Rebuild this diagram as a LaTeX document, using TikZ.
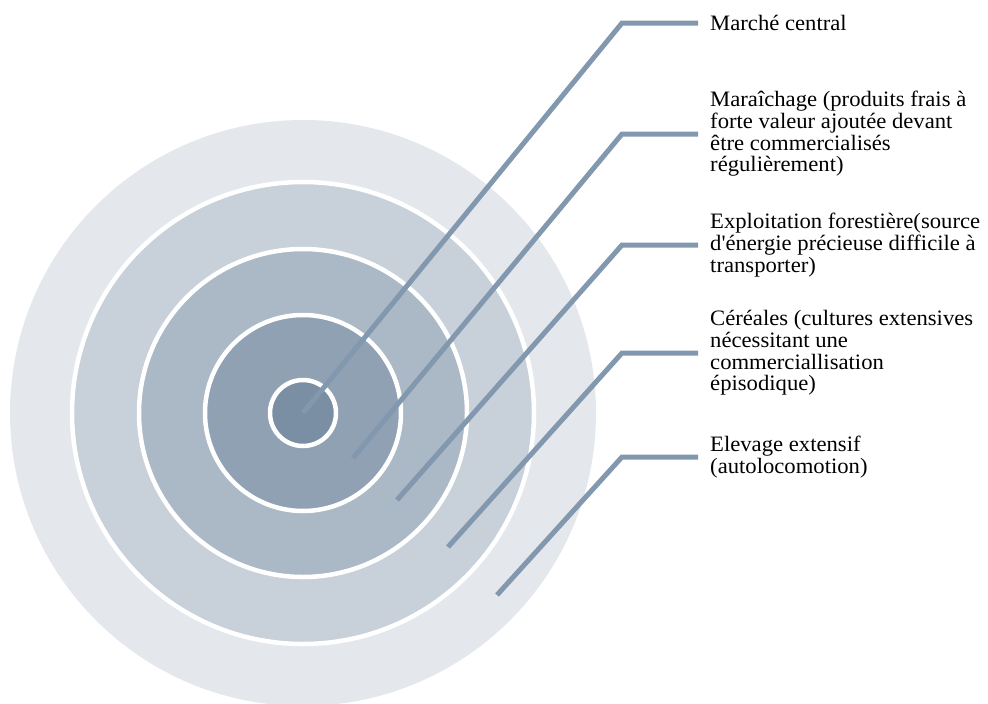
\documentclass[tikz,border=0pt]{standalone}
\usepackage{fontspec}
\setmainfont{Liberation Serif}[FakeStretch=1.03]
\usetikzlibrary{positioning}
\definecolor{zoneA}{HTML}{E4E8ED}
\definecolor{zoneB}{HTML}{C8D0DA}
\definecolor{zoneC}{HTML}{ABB8C6}
\definecolor{zoneD}{HTML}{8FA1B3}
\definecolor{zoneE}{HTML}{7A8FA4}
\definecolor{leadc}{HTML}{8298AE}
\begin{document}
\begin{tikzpicture}[x=1pt,y=-1pt,
	ring/.style={draw=white,line width=4.5pt},
	leader/.style={line width=5pt,leadc,shorten >=12pt},
	lbl/.style={inner sep=0pt,align=left,font=\fontsize{22pt}{21.7pt}\selectfont}]
	\useasboundingbox (0,0) rectangle (988,704);
	\coordinate (O) at (303,413);

	% rings of the zones
	\fill[zoneA] (O) circle (293);
	\filldraw[fill=zoneB,ring] (O) circle (231);
	\filldraw[fill=zoneC,ring] (O) circle (164);
	\filldraw[fill=zoneD,ring] (O) circle (98);
	\filldraw[fill=zoneE,ring] (O) circle (33);

	% start and bend of each leader
	\coordinate (s1) at (O);
	\coordinate (s2) at (353,458);
	\coordinate (s3) at (397,500);
	\coordinate (s4) at (448,547);
	\coordinate (s5) at (497,595);
	\coordinate (e1) at (622,23);
	\coordinate (e2) at (622,134);
	\coordinate (e3) at (622,245);
	\coordinate (e4) at (622,353);
	\coordinate (e5) at (622,457);

	% labels
	\node[lbl,right=88pt of e1] (marche) {Marché central};
	\node[lbl,right=88pt of e2] (maraichage) {Maraîchage (produits frais à\\forte valeur ajoutée devant\\être commercialisés\\régulièrement)};
	\node[lbl,right=88pt of e3] (foret) {Exploitation forestière(source\\d\textquotesingle énergie précieuse difficile à\\transporter)};
	\node[lbl,right=88pt of e4] (cereales) {Céréales (cultures extensives\\nécessitant une\\commerciallisation\\épisodique)};
	\node[lbl,right=88pt of e5] (elevage) {Elevage extensif\\(autolocomotion)};

	\draw[leader] (s1) -- (e1) -- (marche.west);
	\draw[leader] (s2) -- (e2) -- (maraichage.west);
	\draw[leader] (s3) -- (e3) -- (foret.west);
	\draw[leader] (s4) -- (e4) -- (cereales.west);
	\draw[leader] (s5) -- (e5) -- (elevage.west);
\end{tikzpicture}
\end{document}
